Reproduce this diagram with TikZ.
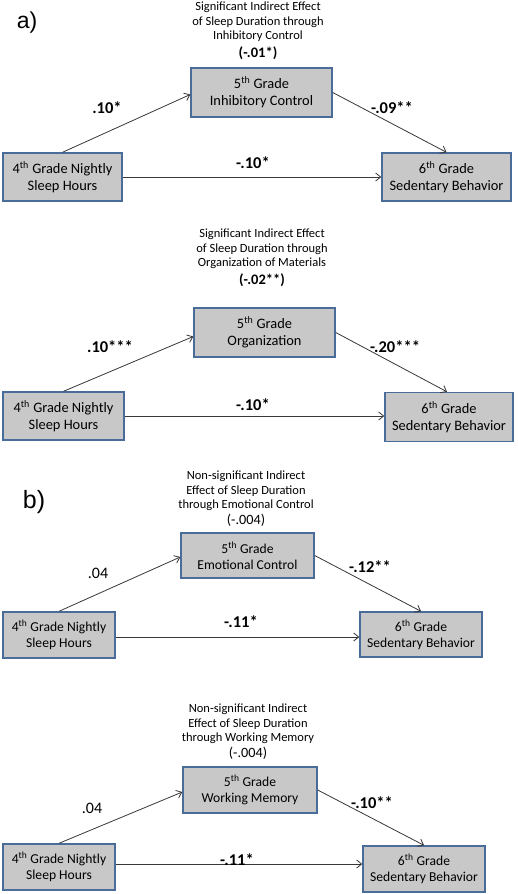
\documentclass[tikz,border=0pt]{standalone}
\usepackage{fontspec}
\setmainfont{Carlito}
\newfontfamily\arialfont{Liberation Sans}
\usetikzlibrary{arrows.meta}
\definecolor{boxgray}{HTML}{C8C8C8}
\definecolor{boxblue}{HTML}{4A6C9B}
\definecolor{arrgray}{HTML}{383838}
\begin{document}
\begin{tikzpicture}[x=1pt,y=-1pt,
  boxa/.style={draw=boxblue, fill=boxgray, line width=1.4pt, align=center, inner sep=0pt,
    font=\fontsize{14.4}{17}\selectfont},
  boxb/.style={boxa, font=\fontsize{13.6}{16}\selectfont},
  arr/.style={-{Straight Barb[length=5pt,width=8pt]}, draw=arrgray, line width=0.8pt},
  lab/.style={font=\bfseries\fontsize{16.5}{19}\selectfont, inner sep=0pt},
  labn/.style={font=\fontsize{16}{19}\selectfont, inner sep=0pt},
  ttl/.style={align=center, inner sep=0pt, font=\fontsize{12.5}{14.5}\selectfont},
  val/.style={inner sep=0pt, font=\bfseries\fontsize{14.5}{17}\selectfont},
  valn/.style={inner sep=0pt, font=\fontsize{14.2}{17}\selectfont},
  panel/.style={inner sep=0pt, font=\arialfont\fontsize{23}{27}\selectfont}]
\useasboundingbox (0,0) rectangle (517,894);
\fill[white] (0,0) rectangle (517,894);

% ---------- panel labels
\node[panel] (pa) at (27,23) {a)};
\node[panel, font=\arialfont\fontsize{25}{30}\selectfont] (pb) at (34,502) {b)};

% ---------- diagram 1
\node[ttl] (t1) at (258,22) {Significant Indirect Effect\\of Sleep Duration through\\Inhibitory Control};
\node[val] (v1) at (258,53) {(-.01*)};
\node[boxa, minimum width=141pt, minimum height=49pt] (m1) at (261.5,92.5) {5\textsuperscript{th} Grade\\Inhibitory Control};
\node[boxa, minimum width=119pt, minimum height=48pt] (l1) at (62.5,177) {4\textsuperscript{th} Grade Nightly\\Sleep Hours};
\node[boxa, minimum width=129pt, minimum height=48pt] (r1) at (446.5,177) {6\textsuperscript{th} Grade\\Sedentary Behavior};
\draw[arr] (l1.north) -- ([yshift=-2pt]m1.west);
\draw[arr] (m1.east) -- (r1.north);
\draw[arr] (l1.east) -- (r1.west);
\node[lab] (a1) at (107,108) {.10*};
\node[lab] (b1) at (392,108) {-.09**};
\node[lab] (c1) at (253,163) {-.10*};

% ---------- diagram 2
\node[ttl] (t2) at (262,249) {Significant Indirect Effect\\of Sleep Duration through\\Organization of Materials};
\node[val] (v2) at (262,280) {(-.02**)};
\node[boxa, minimum width=141pt, minimum height=49pt] (m2) at (264.5,332.5) {5\textsuperscript{th} Grade\\Organization};
\node[boxa, minimum width=121pt, minimum height=48pt] (l2) at (63.5,416) {4\textsuperscript{th} Grade Nightly\\Sleep Hours};
\node[boxa, minimum width=128pt, minimum height=49pt] (r2) at (449,417) {6\textsuperscript{th} Grade\\Sedentary Behavior};
\draw[arr] (l2.north) -- ([yshift=-4pt]m2.west);
\draw[arr] (m2.east) -- ([xshift=-2pt]r2.north);
\draw[arr] (l2.east) -- (l2.east -| r2.west);
\node[lab] (a2) at (110,347) {.10***};
\node[lab] (b2) at (395,347) {-.20***};
\node[lab] (c2) at (253,405) {-.10*};

% ---------- diagram 3
\node[ttl] (t3) at (246,491) {Non-significant Indirect\\Effect of Sleep Duration\\through Emotional Control};
\node[valn] (v3) at (246,520) {(-.004)};
\node[boxb, minimum width=133pt, minimum height=45pt] (m3) at (247.5,555.5) {5\textsuperscript{th} Grade\\Emotional Control};
\node[boxb, minimum width=112pt, minimum height=46pt] (l3) at (59,635) {4\textsuperscript{th} Grade Nightly\\Sleep Hours};
\node[boxb, minimum width=122pt, minimum height=45pt] (r3) at (421,634.5) {6\textsuperscript{th} Grade\\Sedentary Behavior};
\draw[arr] (l3.north) -- ([yshift=-1.5pt]m3.west);
\draw[arr] (m3.east) -- (r3.north);
\draw[arr] ([yshift=-2pt]l3.east) -- ([yshift=-2pt]l3.east -| r3.west);
\node[labn] (a3) at (98,573) {.04};
\node[lab] (b3) at (370,567) {-.12**};
\node[lab] (c3) at (241,622) {-.11*};

% ---------- diagram 4
\node[ttl] (t4) at (248,724) {Non-significant Indirect\\Effect of Sleep Duration\\through Working Memory};
\node[valn] (v4) at (248,753) {(-.004)};
\node[boxb, minimum width=134pt, minimum height=46pt] (m4) at (250,790) {5\textsuperscript{th} Grade\\Working Memory};
\node[boxb, minimum width=112pt, minimum height=46pt] (l4) at (59,867) {4\textsuperscript{th} Grade Nightly\\Sleep Hours};
\node[boxb, minimum width=122pt, minimum height=46pt] (r4) at (424,869) {6\textsuperscript{th} Grade\\Sedentary Behavior};
\draw[arr] (l4.north) -- ([yshift=-2pt]m4.west);
\draw[arr] (m4.east) -- (r4.north);
\draw[arr] ([yshift=3pt]l4.east) -- ([yshift=3pt]l4.east -| r4.west);
\node[labn] (a4) at (92,808) {.04};
\node[lab] (b4) at (372,803) {-.10**};
\node[lab] (c4) at (237,860) {-.11*};
\end{tikzpicture}
\end{document}
